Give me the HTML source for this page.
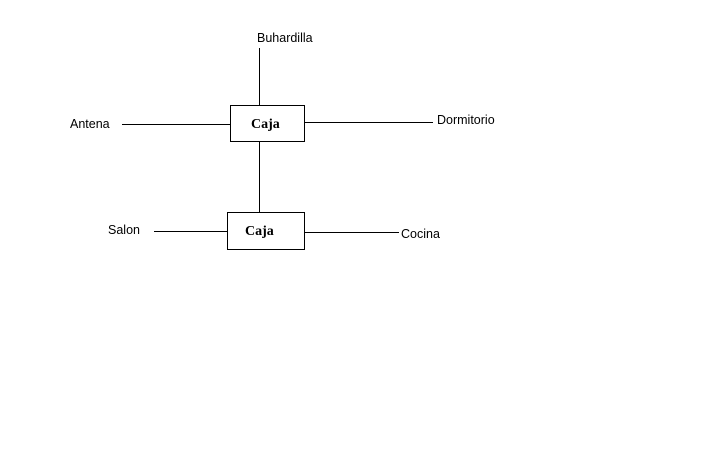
<!DOCTYPE html>
<html><head><meta charset="utf-8"><style>
html,body{margin:0;padding:0;background:#fff;}
svg{display:block;}
</style></head><body>
<svg width="720" height="450" viewBox="0 0 720 450" xmlns="http://www.w3.org/2000/svg">
<rect width="720" height="450" fill="#fff"/>
<g stroke="#000" stroke-width="1" fill="none" shape-rendering="crispEdges">
<line x1="259.5" y1="48" x2="259.5" y2="105"/>
<line x1="259.5" y1="141" x2="259.5" y2="212"/>
<line x1="122" y1="124.5" x2="230" y2="124.5"/>
<line x1="304" y1="122.5" x2="433" y2="122.5"/>
<line x1="154" y1="231.5" x2="227" y2="231.5"/>
<line x1="304" y1="232.5" x2="399" y2="232.5"/>
<rect x="230.5" y="105.5" width="74" height="36"/>
<rect x="227.5" y="212.5" width="77" height="37"/>
</g>
<g font-family="Liberation Sans, sans-serif" font-size="12.5" fill="#000">
<text x="257" y="42">Buhardilla</text>
<text x="70" y="128">Antena</text>
<text x="437" y="124">Dormitorio</text>
<text x="108" y="234">Salon</text>
<text x="401" y="238">Cocina</text>
</g>
<g font-family="Liberation Serif, serif" font-size="14" font-weight="bold" fill="#000">
<text x="251" y="128">Caja</text>
<text x="245" y="235">Caja</text>
</g>
</svg>
</body></html>
